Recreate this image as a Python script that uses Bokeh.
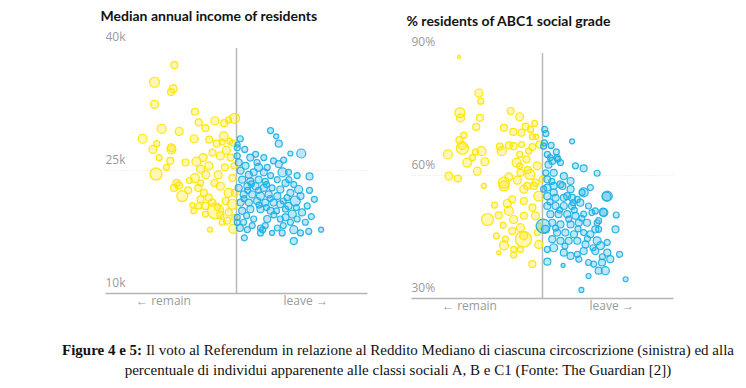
import math
from bokeh.plotting import figure
from bokeh.models import Range1d, FixedTicker, Div
from bokeh.layouts import row, column
from bokeh.embed import file_html
from bokeh.resources import INLINE

# ---------------- data ----------------
# (leave vote %, median income in £k, electorate in thousands)
income_remain = [
    (33.4,37.9,136),(28.1,35.8,278),(33.1,35.0,178),(32.5,34.6,136),(28.1,33.1,178),(38.9,32.2,136),
    (39.9,30.9,136),(44.2,31.1,178),(46.7,30.8,136),(47.9,31.2,100),(49.5,31.4,278),(30.0,30.1,225),
    (34.7,29.8,178),(41.7,30.2,136),(24.9,28.9,225),(28.7,28.3,100),(38.7,28.9,178),(42.7,28.8,136),
    (46.6,29.2,225),(44.7,28.3,136),(46.2,28.5,100),(48.2,28.6,100),(32.6,27.8,178),(27.7,27.6,178),
    (32.6,27.6,225),(29.3,26.6,100),(32.3,26.2,136),(31.3,25.4,100),(28.5,24.6,400),(39.3,26.1,225),
    (41.1,26.6,178),(42.6,25.6,178),(40.4,25.2,178),(41.8,24.5,178),(45.1,24.5,178),(38.9,24.1,225),
    (37.4,23.8,100),(45.7,26.8,178),(47.3,27.5,178),(48.4,26.6,136),(46.9,25.4,136),(49.3,25.6,100),
    (34.6,23.2,136),(33.3,22.9,136),(35.5,21.9,336),(37.1,22.6,136),(39.8,22.9,136),(41.3,22.3,136),
    (42.6,21.7,136),(40.4,21.5,136),(43.5,21.1,136),(45.7,23.1,178),(47.9,22.3,225),(47.1,21.3,136),
    (48.9,20.9,278),(38.2,20.8,69),(39.9,20.7,100),(41.7,20.7,136),(44.4,20.1,711),(45.7,19.6,136),
    (41.7,19.7,100),(47.5,18.9,136),(46.2,18.7,100),(42.9,17.8,69),(49.1,17.9,225),(44.9,20.5,100),
    (38.6,20.1,100),(34.0,23.5,136),(43.6,27.2,136),(48.9,24.1,136),(44.1,23.5,136),(40.4,23.5,100),
    (48.9,28.4,100),(36.4,26.0,136),(47.9,19.9,136),(49.5,22.3,136),(49.5,19.3,100),
]
income_leave = [
    (59.1,29.9,100),(60.6,29.2,69),(61.3,28.3,136),(51.0,28.9,100),(50.3,28.2,69),(67.3,27.1,225),
    (64.4,27.1,69),(62.6,26.3,100),(61.3,25.8,136),(62.3,24.8,225),(69.5,24.3,136),(52.2,27.6,100),
    (50.2,27.8,100),(53.7,26.6,136),(55.5,26.0,100),(50.6,26.0,136),(55.9,25.4,178),(58.2,25.4,100),
    (51.1,25.0,136),(53.3,24.5,136),(59.1,24.4,100),(60.9,23.9,100),(63.1,23.5,136),(65.3,23.3,100),
    (66.6,22.7,178),(67.1,21.9,136),(65.7,21.3,278),(68.9,20.7,100),(70.8,21.5,100),(63.9,20.7,136),
    (67.5,19.9,136),(64.9,19.7,178),(63.1,20.3,100),(68.4,18.7,100),(69.3,17.6,100),(72.6,17.8,69),
    (65.3,17.8,178),(65.3,16.4,136),(62.2,17.4,100),(59.5,17.4,69),(60.9,18.0,100),(56.4,17.4,100),
    (56.4,18.0,100),(52.9,17.8,100),(50.9,18.0,136),(51.9,18.7,100),(54.6,19.1,100),(58.2,19.1,136),
    (61.7,19.1,100),(59.1,20.1,136),(56.4,20.3,136),(53.7,20.3,136),(51.5,20.1,136),(51.1,21.1,136),
    (53.3,21.1,136),(55.5,21.3,136),(57.7,21.1,136),(59.9,21.1,136),(61.7,20.9,136),(60.9,21.9,136),
    (58.6,22.1,136),(56.4,21.9,178),(54.2,22.1,136),(51.9,22.1,136),(50.6,22.9,136),(52.9,23.1,136),
    (55.1,23.1,136),(57.3,22.9,136),(59.5,22.9,100),(61.7,22.7,136),(51.5,23.9,136),(53.7,23.7,136),
    (55.9,23.9,136),(57.7,23.7,100),(54.6,24.8,136),(57.3,24.8,136),(52.4,25.6,136),(50.2,26.8,100),
    (55.1,27.0,100),(57.3,26.6,100),(59.9,26.2,100),(63.9,24.8,100),(66.2,24.4,100),(64.4,22.3,136),
    (63.5,21.7,100),(50.2,19.3,100),(50.2,18.7,100),(57.7,18.3,100),(54.2,18.3,100),(64.4,18.7,100),
    (66.2,19.1,100),(55.9,22.6,100),(58.0,20.5,100),(60.7,20.1,100),(52.7,19.5,100),(63.1,19.3,136),
    (67.1,17.4,100),(70.0,19.4,100),(69.5,22.6,100),(52.1,16.8,100),
    (53.0,22.6,100),(56.0,20.8,100),(59.0,21.6,100),(62.5,21.3,100),(58.0,23.3,100),(54.0,23.4,100),
    (52.0,21.6,100),(60.0,19.6,100),(62.5,18.3,100),(57.0,17.8,100),(66.0,20.5,100),(64.0,23.9,100),
]
# (leave vote %, % residents ABC1, electorate in thousands)
abc1_remain = [
    (27.7,89.0,25),(33.0,80.2,178),(33.5,78.2,100),(27.9,75.4,278),(28.1,74.1,178),(33.3,74.1,136),
    (32.3,71.9,136),(29.0,69.9,100),(27.8,68.7,136),(28.6,67.4,178),(28.6,66.7,400),(24.7,65.2,225),
    (32.1,65.8,100),(33.7,66.0,225),(31.3,64.4,100),(29.9,63.2,225),(34.6,63.4,178),(32.6,61.1,178),
    (25.0,59.9,178),(27.4,59.3,136),(34.3,57.5,69),(41.5,75.8,136),(43.9,74.4,178),(39.7,71.7,136),
    (42.2,70.7,136),(44.4,70.5,136),(45.5,72.0,136),(46.8,71.3,100),(47.9,72.8,100),(47.3,69.5,100),
    (48.3,69.5,69),(38.6,67.1,136),(39.1,66.0,225),(41.0,67.4,136),(42.3,67.2,136),(44.4,67.6,100),
    (47.3,67.0,136),(49.2,67.6,136),(43.9,65.2,100),(46.3,66.0,100),(45.7,64.0,136),(43.1,63.2,225),
    (43.9,62.4,100),(46.1,61.4,136),(48.6,62.4,178),(46.6,60.3,278),(44.1,60.7,136),(41.0,59.7,178),
    (39.7,58.3,336),(43.3,58.9,178),(45.9,57.5,136),(48.1,58.3,136),(49.9,59.1,100),(39.7,57.5,278),
    (45.0,56.7,178),(47.7,57.5,136),(49.0,55.0,278),(37.2,52.8,100),(40.6,53.2,178),(41.9,54.2,136),
    (45.0,53.8,136),(47.3,52.2,136),(41.0,51.4,225),(35.3,49.3,400),(38.3,50.3,136),(39.5,47.9,100),
    (42.3,49.3,178),(45.0,50.2,136),(48.1,50.2,178),(44.1,47.3,178),(41.9,46.5,136),(45.0,45.3,178),
    (44.9,44.5,711),(37.7,45.3,100),(39.7,43.0,225),(42.3,42.0,100),(38.3,41.2,44),(44.1,42.0,100),
    (49.0,43.2,178),(47.3,38.4,136),(42.3,40.6,100),(49.0,47.7,100),(48.6,46.1,100),(40.1,44.5,100),
]
abc1_leave = [
    (50.6,71.3,100),(50.9,70.3,100),(57.9,68.4,69),(52.3,67.4,100),(50.3,67.2,100),(53.7,65.8,100),
    (58.8,62.4,100),(61.0,61.8,136),(54.1,64.0,100),(52.6,63.6,136),(51.3,65.2,100),(53.0,57.5,136),
    (57.5,56.7,136),(60.6,55.9,100),(62.8,57.1,100),(67.1,54.9,225),(66.2,51.1,178),(69.7,50.4,100),
    (69.5,46.9,136),(70.6,40.8,100),(72.2,34.7,69),(60.4,32.1,69),(62.3,35.5,69),(55.5,38.1,44),
    (51.3,39.0,136),(50.2,47.7,544),(50.8,46.9,178),(53.0,42.4,178),(55.7,41.2,136),(57.5,40.4,136),
    (59.3,40.8,100),(61.0,41.6,136),(64.1,41.6,136),(65.5,42.9,178),(67.3,41.2,136),(68.1,39.6,136),
    (65.9,38.8,136),(66.8,36.8,178),(65.0,36.8,136),(63.7,38.4,100),(61.5,43.2,136),(59.3,44.1,136),
    (57.0,44.1,136),(54.8,44.1,136),(52.6,44.5,136),(51.3,42.0,100),(53.9,46.1,136),(56.1,46.1,136),
    (58.4,45.7,136),(61.0,46.1,100),(62.8,45.7,136),(64.6,44.1,178),(67.3,43.7,100),(64.1,46.9,136),
    (61.9,48.5,136),(59.7,48.5,136),(57.5,48.1,136),(54.8,48.1,136),(52.6,48.5,136),(52.1,50.6,136),
    (54.3,50.6,136),(56.6,50.6,136),(58.8,50.2,136),(61.0,50.6,100),(63.2,51.0,100),(65.0,49.0,100),
    (65.0,46.9,100),(51.3,52.6,136),(53.5,52.6,136),(55.7,52.6,136),(57.9,52.6,136),(60.1,53.4,136),
    (62.3,52.6,100),(64.1,51.4,100),(51.3,55.0,136),(53.5,54.6,136),(55.7,54.6,136),(57.9,54.6,136),
    (51.3,57.1,136),(55.3,57.5,136),(59.7,39.6,100),(62.3,38.8,100),(52.1,64.4,100),(53.9,64.4,100),
    (64.6,60.6,100),(61.0,55.9,225),(67.3,55.0,278),(66.4,51.0,178),(64.6,48.5,100),(53.0,60.7,136),
    (55.7,59.9,136),(51.3,59.1,136),(54.8,57.9,136),(57.5,58.7,136),(50.3,56.7,100),(53.0,55.9,136),
    (56.6,55.0,136),(59.3,54.2,100),(58.2,53.4,100),(50.9,60.7,100),(51.6,62.7,136),(54.8,63.2,100),
    (50.5,68.0,100),
    (52.0,53.6,100),(54.6,51.6,100),(57.0,49.4,100),(59.5,47.0,100),(62.0,44.6,100),(63.5,42.4,100),
    (56.0,42.8,100),(53.5,47.2,100),(58.5,51.6,100),(60.5,49.6,100),(66.0,40.2,100),(52.5,58.6,100),
]

income_ticks = [10, 25, 40]
income_tick_labels = ["10k", "25k", "40k"]
abc1_ticks = [30, 60, 90]
abc1_tick_labels = ["30%", "60%", "90%"]
x_tick_pos = [30.5, 68.5]
x_tick_labels = ["\u2190 remain", "leave \u2192"]
titles = ["Median annual income of residents", "% residents of ABC1 social grade"]

REMAIN = "#ffe600"
LEAVE = "#22b0e3"
GREY = "#9a9a9a"


def make_panel(title, remain, leave, ticks, tick_labels, y_end, left, right, shift):
    lo, hi = ticks[0], ticks[-1]
    p = figure(frame_width=262, frame_height=262, output_backend="svg", toolbar_location=None,
               x_range=Range1d(15, 85), y_range=Range1d(lo, y_end),
               min_border_left=left, min_border_right=right, min_border_top=29,
               min_border_bottom=22, title=title, margin=(shift, 0, 0, 0))
    p.outline_line_color = None
    p.background_fill_color = "white"
    p.border_fill_color = "white"
    p.title.text_font = "Lato"
    p.title.text_font_style = "bold"
    p.title.text_font_size = "14px"
    p.title.text_color = "#121212"
    p.title.offset = -5
    p.title.standoff = 12
    p.title.vertical_align = "top"
    p.yaxis.visible = False
    p.xgrid.visible = False
    p.ygrid.ticker = FixedTicker(ticks=[ticks[1]])
    p.ygrid.grid_line_color = "#e4e4e4"
    p.ygrid.grid_line_dash = "1 2"
    ax = p.xaxis[0]
    ax.ticker = FixedTicker(ticks=x_tick_pos)
    ax.major_label_overrides = {x_tick_pos[0]: x_tick_labels[0], x_tick_pos[1]: x_tick_labels[1]}
    ax.major_tick_line_color = None
    ax.minor_tick_line_color = None
    ax.major_tick_out = 0
    ax.major_tick_in = 0
    ax.major_label_standoff = -2
    ax.axis_line_color = "#b5b5b5"
    ax.axis_line_width = 1.5
    ax.major_label_text_font = "Open Sans"
    ax.major_label_text_font_size = "12px"
    ax.major_label_text_color = GREY

    # midline at 50 % leave
    p.segment(x0=[50], y0=[lo], x1=[50], y1=[hi], line_color="#b9b9b9", line_width=1.5)
    # y tick labels inside the plot
    p.text(x=[15] * len(ticks), y=ticks, text=tick_labels, text_baseline="bottom",
           text_align="left", y_offset=-3, text_font_size="12px", text_color=GREY,
           text_font={"value": "Open Sans"})

    for data, col in ((remain, REMAIN), (leave, LEAVE)):
        xs = [d[0] for d in data]
        ys = [d[1] for d in data]
        sz = [0.6 * math.sqrt(d[2]) for d in data]
        p.scatter(xs, ys, size=sz, fill_color=col, fill_alpha=0.3,
                  line_color=col, line_alpha=0.95, line_width=1.2)
    return p


p1 = make_panel(titles[0], income_remain, income_leave, income_ticks, income_tick_labels,
                42.0, 105, 24, 0)
p2 = make_panel(titles[1], abc1_remain, abc1_leave, abc1_ticks, abc1_tick_labels,
                94.0, 20, 12, 5)

caption = Div(
    text=("<b>Figure 4 e 5:</b> Il voto al Referendum in relazione al Reddito Mediano di "
          "ciascuna circoscrizione (sinistra) ed alla<br>percentuale di individui apparenente "
          "alle classi sociali A, B e C1 (Fonte: The Guardian [2])"),
    width=740,
    styles={"font-family": "'Liberation Serif', serif", "font-size": "15px",
            "text-align": "center", "line-height": "20px", "color": "#111",
            "padding-left": "46px", "padding-top": "15px", "white-space": "nowrap"},
)

layout = column(row(p1, p2), caption)
open("out.html", "w").write(file_html(layout, INLINE))
